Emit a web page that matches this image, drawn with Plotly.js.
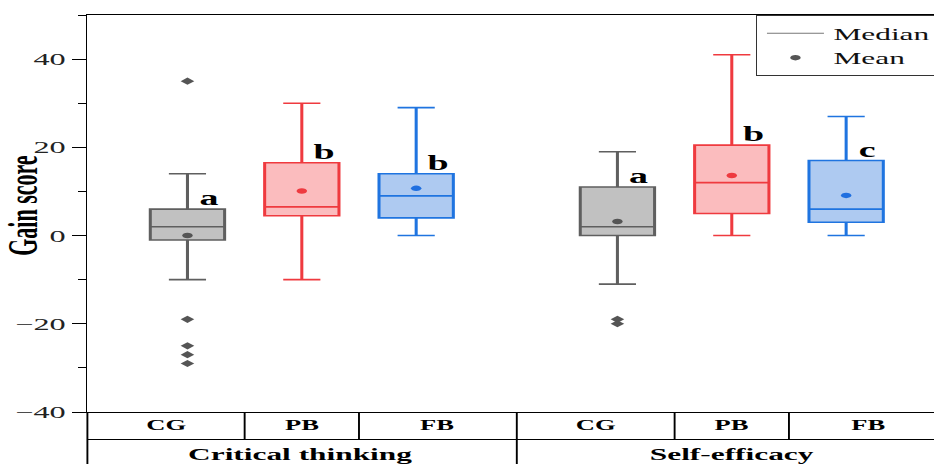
<!DOCTYPE html>
<html>
<head>
<meta charset="utf-8">
<script src="https://cdn.plot.ly/plotly-3.0.1.min.js"></script>
<style>
  html, body { margin: 0; padding: 0; background: #ffffff; overflow: hidden; width: 934px; height: 464px; }
  #chart { width: 500px; height: 464px; transform: scaleX(1.9); transform-origin: 0 0; }
</style>
</head>
<body>
<div id="chart"></div>
<script>
// ---- data ----
const categories = ['CG', 'PB', 'FB', 'CG', 'PB', 'FB'];
const groupIndex = [0, 0, 0, 1, 1, 1];
const groupNames = ['Critical thinking', 'Self-efficacy'];
const q1 = [-1, 4.5, 4, 0, 5, 3];
const median = [2, 6.5, 9, 2, 12, 6];
const q3 = [6, 16.5, 14, 11, 20.5, 17];
const lowerWhisker = [-10, -10, 0, -11, 0, 0];
const upperWhisker = [14, 30, 29, 19, 41, 27];
const means = [0, 10.1, 10.7, 3.2, 13.6, 9.1];
const outlierBox = [0, 0, 0, 0, 0, 3, 3];
const outlierValues = [35, -19, -25, -27, -29, -19, -20];
const letters = ['a', 'b', 'b', 'a', 'b', 'c'];

// ---- styling ----
const FONT = 'Liberation Serif, Times New Roman, serif';
const lineColors = ['#5f5f5f', '#ef3a3f', '#1f74e0'];
const fillColors = ['#c1c1c1', '#fbbcbe', '#aecaf1'];
const meanColors = ['#555555', '#ee3a40', '#1f6fe0'];
const GROUP_GAP = 0.76;
const pos = categories.map((c, i) => i + 1 + groupIndex[i] * GROUP_GAP);
const xmin = pos[0] - 0.875, xmax = pos[pos.length - 1] + 0.875;

const PLOT_H = 397, T = 15, B = 52;
const row1Bottom = -27.5 / PLOT_H, tableBottom = -B / PLOT_H;

const traces = [];
for (let k = 0; k < 3; k++) {
  const idx = categories.map((c, i) => i).filter(i => i % 3 === k);
  traces.push({
    type: 'box',
    x: idx.map(i => pos[i]),
    q1: idx.map(i => q1[i]),
    median: idx.map(i => median[i]),
    q3: idx.map(i => q3[i]),
    lowerfence: idx.map(i => lowerWhisker[i]),
    upperfence: idx.map(i => upperWhisker[i]),
    width: 0.65,
    whiskerwidth: 0.5,
    boxpoints: false,
    line: { color: lineColors[k], width: 1.6 },
    fillcolor: fillColors[k],
    showlegend: false,
    hoverinfo: 'skip'
  });
}
traces.push({
  type: 'scatter', mode: 'markers',
  x: outlierBox.map(i => pos[i]), y: outlierValues,
  marker: { symbol: 'diamond', size: 5.5, color: '#555555' },
  showlegend: false, hoverinfo: 'skip'
});
traces.push({
  type: 'scatter', mode: 'lines', x: [null], y: [null],
  line: { color: '#777777', width: 1 }, name: 'Median', showlegend: true
});
traces.push({
  type: 'scatter', mode: 'markers', name: 'Mean',
  x: pos, y: means,
  marker: { symbol: 'circle', size: 5.5, color: pos.map((p, i) => meanColors[i % 3]) },
  showlegend: true, hoverinfo: 'skip'
});

const annotations = [];
letters.forEach((t, i) => annotations.push({
  xref: 'x', yref: 'y', x: pos[i] + 0.07, y: q3[i], xanchor: 'left', yanchor: 'bottom', yshift: -2,
  text: '<b>' + t + '</b>', showarrow: false, font: { family: FONT, size: 20, color: '#000' }
}));

const dividers = pos.slice(0, -1).map((p, i) => (p + pos[i + 1]) / 2);
const edges = [xmin].concat(dividers, [xmax]);
categories.forEach((c, i) => annotations.push({
  xref: 'x', yref: 'paper', x: (edges[i] + edges[i + 1]) / 2, y: row1Bottom / 2,
  xanchor: 'center', yanchor: 'middle', text: '<b>' + c + '</b>', showarrow: false,
  font: { family: FONT, size: 14, color: '#000' }
}));
groupNames.forEach((g, gi) => {
  const members = pos.filter((p, i) => groupIndex[i] === gi);
  annotations.push({
    xref: 'x', yref: 'paper', x: members[1], y: (row1Bottom + tableBottom) / 2 - 0.0075,
    xanchor: 'center', yanchor: 'middle', text: '<b>' + g + '</b>', showarrow: false,
    font: { family: FONT, size: 16.5, color: '#000' }
  });
});
annotations.push({
  xref: 'paper', yref: 'paper', x: -0.076, y: 0.521, xanchor: 'center', yanchor: 'middle',
  textangle: -90, text: '<b>Gain score</b>', showarrow: false,
  font: { family: FONT, size: 22, color: '#000' }
});

const shapes = [];
const ln = { color: '#000', width: 1 };
shapes.push({ type: 'line', xref: 'paper', yref: 'paper', x0: 0, x1: 1, y0: row1Bottom, y1: row1Bottom, line: ln });
shapes.push({ type: 'line', xref: 'paper', yref: 'paper', x0: 0, x1: 0, y0: 0, y1: tableBottom, line: ln });
shapes.push({ type: 'line', xref: 'paper', yref: 'paper', x0: 1, x1: 1, y0: 0, y1: tableBottom, line: ln });
dividers.forEach((d, i) => {
  const full = groupIndex[i] !== groupIndex[i + 1];
  shapes.push({ type: 'line', xref: 'x', yref: 'paper', x0: d, x1: d, y0: 0, y1: full ? tableBottom : row1Bottom, line: ln });
});

const layout = {
  width: 500, height: 464,
  margin: { l: 46.3, r: 1.6, t: T, b: B, autoexpand: false },
  paper_bgcolor: '#ffffff', plot_bgcolor: '#ffffff',
  font: { family: FONT, color: '#222' },
  showlegend: true,
  legend: {
    x: 0.778, y: 1, xanchor: 'left', yanchor: 'top',
    bgcolor: '#ffffff', bordercolor: '#333', borderwidth: 1,
    font: { family: FONT, size: 16.5, color: '#111' },
    tracegroupgap: 0, itemsizing: 'trace', itemwidth: 30
  },
  xaxis: {
    range: [xmin, xmax], showticklabels: false, ticks: '', showgrid: false, zeroline: false,
    showline: true, mirror: true, linecolor: '#000', linewidth: 1
  },
  yaxis: {
    range: [-40, 50], dtick: 20, tick0: 0, ticks: 'outside', ticklen: 7, tickwidth: 1, tickcolor: '#000',
    showgrid: false, zeroline: false, showline: true, mirror: true, linecolor: '#000', linewidth: 1,
    tickfont: { family: FONT, size: 17, color: '#222' }, ticklabelstandoff: 0,
    minor: { ticks: 'outside', dtick: 10, ticklen: 4, tickwidth: 1, tickcolor: '#000', showgrid: false }
  },
  annotations: annotations,
  shapes: shapes
};

Plotly.newPlot('chart', traces, layout, { staticPlot: true, displayModeBar: false });
</script>
</body>
</html>
